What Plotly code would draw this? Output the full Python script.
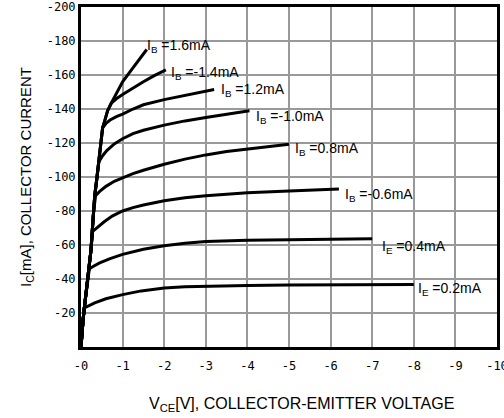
import plotly.graph_objects as go

# Collector-emitter voltage (V) and collector current (mA) for each base current curve
curve_names = ["I<sub>B</sub> =1.6mA", "I<sub>B</sub> =-1.4mA", "I<sub>B</sub> =1.2mA",
               "I<sub>B</sub> =-1.0mA", "I<sub>B</sub> =0.8mA", "I<sub>B</sub> =-0.6mA",
               "I<sub>E</sub> =0.4mA", "I<sub>E</sub> =0.2mA"]

vce_16 = [0, -0.02, -0.05, -0.08, -0.14, -0.2, -0.24, -0.27, -0.3, -0.33, -0.38, -0.43, -0.48, -0.52, -0.57, -0.64, -0.73, -0.85, -1.0, -1.15, -1.3, -1.45, -1.58]
ic_16 = [0, -8, -16, -23, -35, -46, -57, -68, -79, -89, -99, -109, -120, -129, -133, -139, -143.5, -149.5, -156, -161, -166, -170.5, -175]

vce_14 = [0, -0.02, -0.05, -0.08, -0.14, -0.2, -0.24, -0.27, -0.3, -0.33, -0.38, -0.43, -0.48, -0.52, -0.57, -0.64, -0.73, -0.85, -1.0, -1.25, -1.5, -1.75, -2.04]
ic_14 = [0, -8, -16, -23, -35, -46, -57, -68, -79, -89, -99, -109, -120, -129, -133, -139, -143.5, -146, -148.5, -152.5, -156, -159.5, -163]

vce_12 = [0, -0.02, -0.05, -0.08, -0.14, -0.2, -0.24, -0.27, -0.3, -0.33, -0.38, -0.43, -0.48, -0.52, -0.6, -0.7, -0.85, -1.0, -1.25, -1.5, -2.0, -2.5, -3.0, -3.2]
ic_12 = [0, -8, -16, -23, -35, -46, -57, -68, -79, -89, -99, -109, -120, -129, -131.5, -133.5, -135.5, -137, -140, -142.5, -145.5, -148, -150.5, -151.5]

vce_10 = [0, -0.02, -0.05, -0.08, -0.14, -0.2, -0.24, -0.27, -0.3, -0.33, -0.38, -0.43, -0.52, -0.62, -0.8, -1.0, -1.25, -1.5, -2.0, -2.5, -3.0, -3.5, -4.05]
ic_10 = [0, -8, -16, -23, -35, -46, -57, -68, -79, -89, -99, -109, -112.5, -115.5, -119.5, -122.5, -125.5, -127.5, -130.5, -133, -135, -137, -139]

vce_08 = [0, -0.02, -0.05, -0.08, -0.14, -0.2, -0.24, -0.27, -0.3, -0.35, -0.45, -0.6, -0.8, -1.0, -1.25, -1.5, -2.0, -2.5, -3.0, -3.5, -4.0, -4.5, -5.0]
ic_08 = [0, -8, -16, -23, -35, -46, -57, -68, -79, -89, -91.5, -94.5, -97.5, -99.5, -102, -104, -107.5, -110.5, -113, -115, -116.5, -118, -119.3]

vce_06 = [0, -0.02, -0.05, -0.08, -0.14, -0.2, -0.24, -0.28, -0.4, -0.55, -0.75, -1.0, -1.25, -1.5, -2.0, -2.5, -3.0, -4.0, -5.0, -6.2]
ic_06 = [0, -8, -16, -23, -35, -46, -57, -68, -70.5, -73.5, -77, -80, -82, -83.5, -86, -87.8, -89, -90.8, -91.8, -93]

vce_04 = [0, -0.02, -0.05, -0.08, -0.14, -0.2, -0.3, -0.45, -0.7, -1.0, -1.5, -2.0, -2.5, -3.0, -4.0, -5.0, -6.0, -7.0]
ic_04 = [0, -8, -16, -23, -35, -46, -47.5, -49.5, -52, -54.5, -57.5, -59.5, -61, -62, -62.8, -63.2, -63.5, -63.7]

vce_02 = [0, -0.02, -0.05, -0.08, -0.2, -0.33, -0.6, -1.0, -1.45, -2.0, -2.5, -3.0, -4.0, -5.0, -6.0, -7.0, -8.0]
ic_02 = [0, -8, -16, -23, -24.5, -26, -28.4, -30.8, -33, -34.7, -35.4, -35.8, -36.2, -36.4, -36.5, -36.6, -36.7]

curves_v = [vce_16, vce_14, vce_12, vce_10, vce_08, vce_06, vce_04, vce_02]
curves_i = [ic_16, ic_14, ic_12, ic_10, ic_08, ic_06, ic_04, ic_02]

x_tick_vals = [0, -1, -2, -3, -4, -5, -6, -7, -8, -9, -10]
x_tick_text = ["-0", "-1", "-2", "-3", "-4", "-5", "-6", "-7", "-8", "-9", "-10"]
y_tick_vals = [-20, -40, -60, -80, -100, -120, -140, -160, -180, -200]
y_tick_text = ["-20", "-40", "-60", "-80", "-100", "-120", "-140", "-160", "-180", "-200"]

x_title = "V<sub>CE</sub>[V], COLLECTOR-EMITTER VOLTAGE"
y_title = "I<sub>C</sub>[mA], COLLECTOR CURRENT"

label_shifts = [(-2, 4), (3, -3), (5, -1), (5, -6), (4, -5), (4, -6), (8, -8), (2, -4)]

fig = go.Figure()
for name, v, i in zip(curve_names, curves_v, curves_i):
    fig.add_trace(go.Scatter(x=v, y=i, mode="lines", name=name,
                             line=dict(color="black", width=3), showlegend=False,
                             hoverinfo="skip"))

for name, v, i, (dx, dy) in zip(curve_names, curves_v, curves_i, label_shifts):
    fig.add_annotation(x=v[-1], y=i[-1], text=name, showarrow=False,
                       xanchor="left", yanchor="middle", xshift=dx, yshift=dy,
                       font=dict(family="Liberation Sans, Arial", size=14, color="black"))

fig.add_annotation(x=0.531, y=0, xref="paper", yref="paper", yshift=-57,
                   xanchor="center", yanchor="middle", text=x_title, showarrow=False,
                   font=dict(family="Liberation Sans, Arial", size=16, color="black"))

fig.update_xaxes(range=[0, -10], tickvals=x_tick_vals, ticktext=x_tick_text,
                 showgrid=True, gridcolor="#999999", gridwidth=2,
                 showline=True, linecolor="black", linewidth=3, mirror=True,
                 zeroline=False, ticks="", ticklabelstandoff=6, ticklabeloverflow="allow",
                 tickfont=dict(family="DejaVu Sans Mono", size=12, color="black"),
                 automargin=False)
fig.update_yaxes(range=[0, -200], tickvals=y_tick_vals, ticktext=y_tick_text,
                 showgrid=True, gridcolor="#999999", gridwidth=2,
                 showline=True, linecolor="black", linewidth=3, mirror=True,
                 zeroline=False, ticks="", ticklabeloverflow="allow",
                 tickfont=dict(family="DejaVu Sans Mono", size=12, color="black"),
                 title=dict(text=y_title,
                            font=dict(family="Liberation Sans, Arial", size=15, color="black"),
                            standoff=12),
                 automargin=False)

fig.update_layout(width=504, height=418,
                  margin=dict(l=81, r=7, t=7, b=71),
                  paper_bgcolor="white", plot_bgcolor="white")

fig.write_html("out.html", config={"displayModeBar": False},
               post_script="document.body.style.margin='0';document.body.style.overflow='hidden';")
